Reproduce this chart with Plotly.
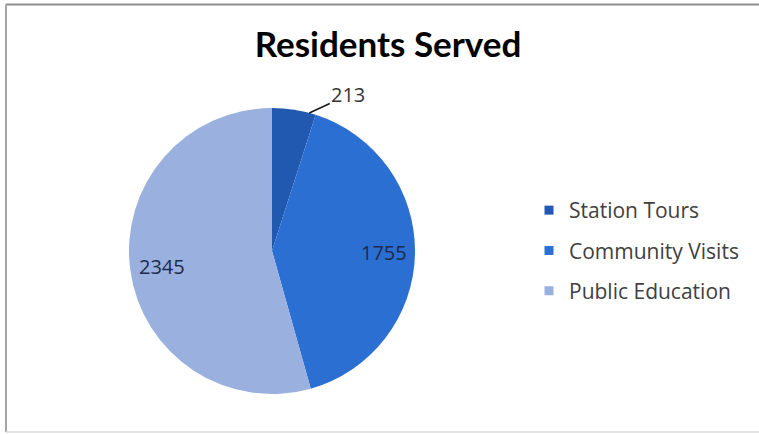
import math
import plotly.graph_objects as go

# Residents served by program
categories = ["Station Tours", "Community Visits", "Public Education"]
values = [213, 1755, 2345]
colors = ["#2158B0", "#2B6FD2", "#9AB1E0"]

W, H = 759, 434
# pie placement in pixels (center and radius)
cx, cy, r = 272, 251, 143

fig = go.Figure()

fig.add_trace(go.Pie(
    labels=categories,
    values=values,
    sort=False,
    direction="clockwise",
    rotation=0,
    marker=dict(colors=colors, line=dict(width=0)),
    textinfo="none",
    domain=dict(x=[(cx - r) / W, (cx + r) / W], y=[1 - (cy + r) / H, 1 - (cy - r) / H]),
    showlegend=False,
    hoverinfo="label+value",
))

# legend keys
for name, c in zip(categories, colors):
    fig.add_trace(go.Scatter(
        x=[None], y=[None], mode="markers", name=name, legendgroup=name,
        marker=dict(symbol="square", size=9, color=c),
    ))

label_font = dict(family="Open Sans", size=20, color="#1B2A4E")
total = sum(values)
start = 0.0
for i, v in enumerate(values):
    span = 360 * v / total
    if i == 0:
        # small slice: value outside, with a leader line to the slice edge
        ang = math.radians(start + span * 0.85)
        px = cx + r * math.sin(ang)
        py = cy - r * math.cos(ang)
        fig.add_annotation(
            x=px / W, y=1 - py / H, xref="paper", yref="paper",
            text=str(v), showarrow=True, arrowhead=0, arrowwidth=1.6,
            arrowcolor="#1a1a1a", ax=39, ay=-18,
            font=dict(family="Open Sans", size=20, color="#333333"),
        )
    else:
        ang = math.radians(start + span / 2)
        px = cx + 0.78 * r * math.sin(ang)
        py = cy - 0.78 * r * math.cos(ang)
        fig.add_annotation(
            x=px / W, y=1 - py / H, xref="paper", yref="paper",
            xanchor="center", yanchor="middle",
            text=str(v), showarrow=False, font=label_font,
        )
    start += span

# chart frame
fig.add_shape(type="line", xref="paper", yref="paper", x0=6 / W, x1=1.01, y0=1 - 4.5 / H, y1=1 - 4.5 / H,
              line=dict(color="#8C8C8C", width=2))
fig.add_shape(type="line", xref="paper", yref="paper", x0=6 / W, x1=6 / W, y0=1 - 4.5 / H, y1=1 - 432 / H,
              line=dict(color="#A6A6A6", width=2))
fig.add_shape(type="line", xref="paper", yref="paper", x0=6 / W, x1=1.01, y0=1 - 432 / H, y1=1 - 432 / H,
              line=dict(color="#DADADA", width=1.5))

fig.update_layout(
    width=W, height=H,
    margin=dict(l=0, r=0, t=0, b=0),
    paper_bgcolor="white", plot_bgcolor="white",
    title=dict(text="<b>Residents Served</b>", x=388 / W, xanchor="center", y=1 - 45 / H, yanchor="middle",
               font=dict(family="Lato", size=35, color="#000000")),
    xaxis=dict(visible=False), yaxis=dict(visible=False),
    legend=dict(x=529 / W, y=1 - 190 / H, xanchor="left", yanchor="top",
                font=dict(family="Open Sans", size=21, color="#404040"),
                tracegroupgap=10, itemwidth=30, bgcolor="rgba(0,0,0,0)"),
)

fig.write_html("out.html")
